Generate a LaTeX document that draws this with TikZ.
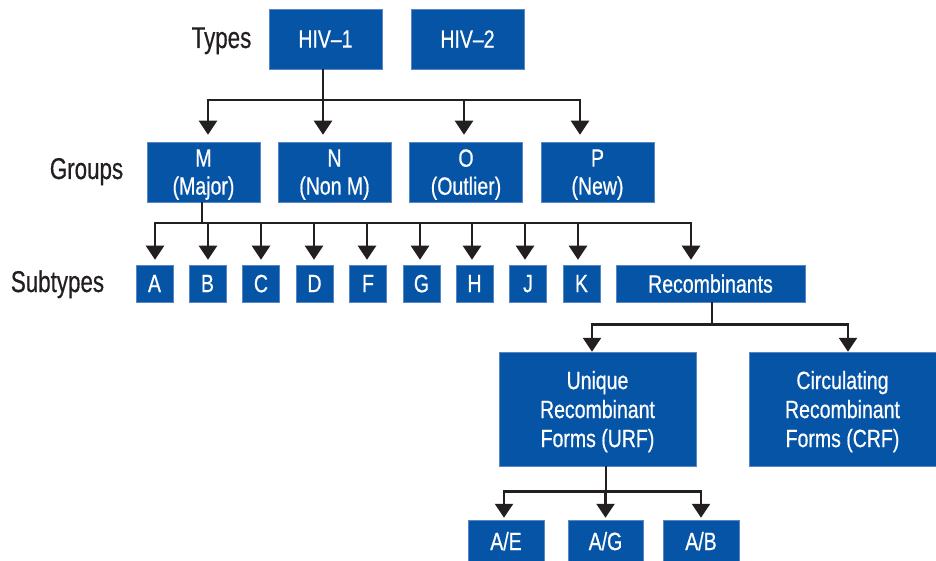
\documentclass[tikz,border=0pt]{standalone}
\usepackage{fontspec}
\setmainfont{Liberation Sans}[FakeStretch=0.78, FakeBold=0.6]
\newfontfamily\lblfont{Liberation Sans}[FakeStretch=0.745, FakeBold=0.5]
\usetikzlibrary{arrows.meta}
\definecolor{boxblue}{RGB}{5,84,165}
\definecolor{boxedge}{RGB}{90,135,195}
\definecolor{ink}{RGB}{35,31,32}
\tikzset{
  box/.style={fill=boxblue, draw=boxedge, line width=0.5pt, text=white, inner sep=0pt, align=center,
    text depth=0pt, font=\fontsize{25}{29}\selectfont},
  lvl/.style={text=ink, font=\lblfont\fontsize{30}{34}\selectfont, inner sep=0pt, anchor=base},
  ln/.style={draw=ink, line width=2.5pt},
  arr/.style={ln, -{Triangle[width=18pt,length=14pt]}},
  grp/.style={box, minimum width=113pt, minimum height=60pt, font=\fontsize{25}{28}\selectfont},
  sub/.style={box, minimum width=37pt, minimum height=37pt},
}
\begin{document}
\begin{tikzpicture}[x=1pt,y=-1pt]
\useasboundingbox (0,0) rectangle (936,561);
% level labels
\node[lvl] (ltypes) at (221.5,48) {Types};
\node[lvl] (lgroups) at (86.5,179) {Groups};
\node[lvl] (lsub) at (57.5,292) {Subtypes};
% types
\node[box, minimum width=113pt, minimum height=60pt] (hiv1) at (325.5,39) {HIV–1};
\node[box, minimum width=113pt, minimum height=60pt] (hiv2) at (467.5,39) {HIV–2};
% groups
\node[grp] (M) at (203.5,172) {M\\(Major)};
\node[grp] (N) at (334.5,172) {N\\(Non M)};
\node[grp] (O) at (466,172) {O\\(Outlier)};
\node[grp] (P) at (597.5,172) {P\\(New)};
% subtypes
\node[sub] (A) at (154.5,283.5) {A};
\node[sub] (B) at (207.5,283.5) {B};
\node[sub] (C) at (261,283.5) {C};
\node[sub] (D) at (314.5,283.5) {D};
\node[sub] (F) at (368,283.5) {F};
\node[sub] (G) at (421.5,283.5) {G};
\node[sub] (H) at (474.5,283.5) {H};
\node[sub] (J) at (528,283.5) {J};
\node[sub] (K) at (581.5,283.5) {K};
\node[box, minimum width=189pt, minimum height=37pt] (rec) at (710.5,283.5) {Recombinants};
% recombinant forms
\node[box, minimum width=197pt, minimum height=114pt] (urf) at (597.5,409) {Unique\\Recombinant\\Forms (URF)};
\node[box, minimum width=187pt, minimum height=114pt] (crf) at (842.5,409) {Circulating\\Recombinant\\Forms (CRF)};
% URF examples
\node[box, minimum width=76pt, minimum height=42pt] (ae) at (506,541) {A/E};
\node[box, minimum width=75pt, minimum height=42pt] (ag) at (605.5,541) {A/G};
\node[box, minimum width=76pt, minimum height=42pt] (ab) at (701,541) {A/B};
% connectors: types -> groups
\draw[ln] ([xshift=-2.5pt]hiv1.south) -- ++(0,31) coordinate (t1);
\draw[arr, shorten >=7pt] (t1) -| ([xshift=4.5pt]M.north);
\draw[arr, shorten >=7pt] (t1) -| ([xshift=-11.5pt]N.north);
\draw[arr, shorten >=7pt] (t1) -| ([xshift=-2pt]O.north);
\draw[arr, shorten >=7pt] (t1) -| ([xshift=-17.5pt]P.north);
% connectors: M -> subtypes
\draw[ln] ([xshift=-1.5pt]M.south) -- ++(0,21) coordinate (t2);
\draw[arr, shorten >=5pt] (t2) -| ([xshift=0.5pt]A.north);
\draw[arr, shorten >=5pt] (t2) -| ([xshift=0.5pt]B.north);
\draw[arr, shorten >=5pt] (t2) -| (C.north);
\draw[arr, shorten >=5pt] (t2) -| ([xshift=-0.5pt]D.north);
\draw[arr, shorten >=5pt] (t2) -| ([xshift=-1pt]F.north);
\draw[arr, shorten >=5pt] (t2) -| ([xshift=-1.5pt]G.north);
\draw[arr, shorten >=5pt] (t2) -| ([xshift=-2.5pt]H.north);
\draw[arr, shorten >=5pt] (t2) -| ([xshift=-3pt]J.north);
\draw[arr, shorten >=5pt] (t2) -| ([xshift=-3.5pt]K.north);
\draw[arr, shorten >=5pt] (t2) -| ([xshift=-19.5pt]rec.north);
% connectors: recombinants -> forms
\draw[ln] ([xshift=1.5pt]rec.south) -- ++(0,22) coordinate (t3);
\draw[arr] (t3) -| ([xshift=-5.5pt]urf.north);
\draw[arr] (t3) -| ([xshift=5.5pt]crf.north);
% connectors: URF -> examples
\draw[ln] ([xshift=8.5pt]urf.south) -- ++(0,25) coordinate (t4);
\draw[arr, shorten >=2pt] (t4) -| ([xshift=-2pt]ae.north);
\draw[arr, shorten >=2pt] (t4) -| (ag.north);
\draw[arr, shorten >=2pt] (t4) -| (ab.north);
\end{tikzpicture}
\end{document}
